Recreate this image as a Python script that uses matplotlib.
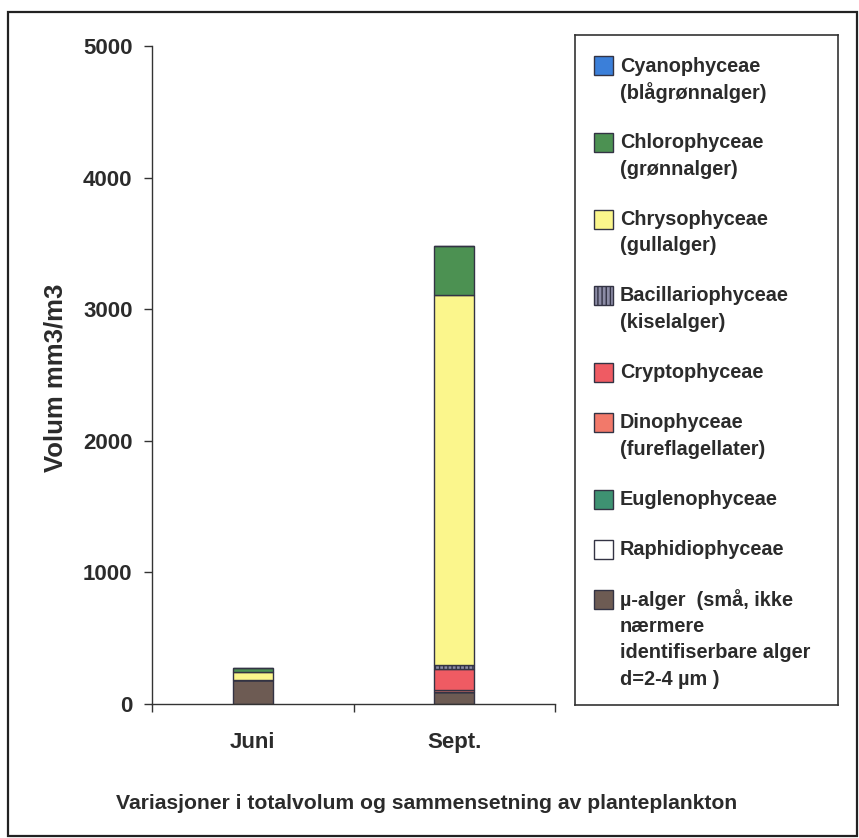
import matplotlib
matplotlib.use("Agg")
import matplotlib.pyplot as plt
from matplotlib.patches import Rectangle

plt.rcParams['font.family'] = ['Liberation Sans', 'DejaVu Sans']
plt.rcParams['font.weight'] = 'bold'
plt.rcParams['hatch.color'] = '#444455'

TXT = '#2b2b2b'

# ---- data ----
months = ['Juni', 'Sept.']
series_names = [
    'Cyanophyceae\n(blågrønnalger)',
    'Chlorophyceae\n(grønnalger)',
    'Chrysophyceae\n(gullalger)',
    'Bacillariophyceae\n(kiselalger)',
    'Cryptophyceae',
    'Dinophyceae\n(fureflagellater)',
    'Euglenophyceae',
    'Raphidiophyceae',
    'µ-alger  (små, ikke\nnærmere\nidentifiserbare alger\nd=2-4 µm )',
]
cyano = [0, 0]
chloro = [30, 370]
chryso = [65, 2815]
bacillario = [0, 30]
crypto = [0, 160]
dino = [0, 15]
eugleno = [0, 0]
raphidio = [0, 0]
my_alger = [180, 90]

series_values = [cyano, chloro, chryso, bacillario, crypto, dino, eugleno, raphidio, my_alger]
colors = ['#3b7fd9', '#4c9152', '#fbf68c', '#8c8ca6', '#ef5b63', '#f2796a', '#3e9272', '#ffffff', '#6d5b53']
hatches = [None, None, None, '||||', None, None, None, None, None]

y_ticks = [0, 1000, 2000, 3000, 4000, 5000]

W, H = 859, 838
fig = plt.figure(figsize=(W / 100, H / 100), dpi=100)

def fx(px):
    return px / W

def fy(py):
    return 1 - py / H

ax = fig.add_axes([fx(152), fy(704), fx(555) - fx(152), fy(46) - fy(704)])

# stack from bottom: reverse of legend order
x = [0.5, 1.5]
bottom = [0, 0]
for name, vals, col, hat in reversed(list(zip(series_names, series_values, colors, hatches))):
    ax.bar(x, vals, width=0.2, bottom=bottom, color=col, edgecolor='#333344',
           linewidth=1.0, hatch=hat)
    bottom = [b + v for b, v in zip(bottom, vals)]

ax.set_xlim(0, 2)
ax.set_ylim(0, 5000)
ax.set_yticks(y_ticks)
ax.set_yticklabels([str(t) for t in y_ticks], fontsize=16, fontweight='bold', color=TXT)
ax.set_xticks([0, 1, 2])
ax.set_xticklabels([])
ax.set_xticks(x, minor=True)
ax.set_xticklabels(months, minor=True, fontsize=16, fontweight='bold', color=TXT)
ax.tick_params(axis='x', which='minor', length=0, pad=20)
ax.tick_params(axis='x', which='major', length=6, width=1, color='#333333', direction='out')
ax.tick_params(axis='y', length=6, width=1, color='#333333', direction='out', pad=8)
for s in ['top', 'right']:
    ax.spines[s].set_visible(False)
for s in ['left', 'bottom']:
    ax.spines[s].set_color('#333333')
    ax.spines[s].set_linewidth(1.0)

fig.text(fx(56), fy(378), 'Volum mm3/m3', rotation=90, ha='center', va='center',
         fontsize=18.5, fontweight='bold', color=TXT)

# title at bottom
fig.text(fx(427), fy(803), 'Variasjoner i totalvolum og sammensetning av planteplankton',
         ha='center', va='center', fontsize=15.2, fontweight='bold', color=TXT)

# outer frame
fig.patches.append(Rectangle((fx(8), fy(836)), fx(857) - fx(8), fy(12) - fy(836),
                             transform=fig.transFigure, fill=False, edgecolor='#222222',
                             linewidth=1.6))

# legend (manual, pixel coordinates)
lax = fig.add_axes([fx(575), fy(705), fx(838) - fx(575), fy(35) - fy(705)])
lax.set_xlim(575, 838)
lax.set_ylim(705, 35)
lax.set_xticks([])
lax.set_yticks([])
for s in lax.spines.values():
    s.set_color('#333333')
    s.set_linewidth(1.2)

ycur = 66
line_h = 26.5
for name, col, hat in zip(series_names, colors, hatches):
    lax.add_patch(Rectangle((594, ycur - 9.5), 19, 19, facecolor=col, edgecolor='#333344',
                            linewidth=1.0, hatch=hat))
    lines = name.split('\n')
    for i, ln in enumerate(lines):
        lax.text(620, ycur + i * line_h, ln, ha='left', va='center', fontsize=14.3,
                 fontweight='bold', color=TXT)
    ycur += 24 + 26.3 * len(lines)

fig.savefig('out.png', dpi=100)
